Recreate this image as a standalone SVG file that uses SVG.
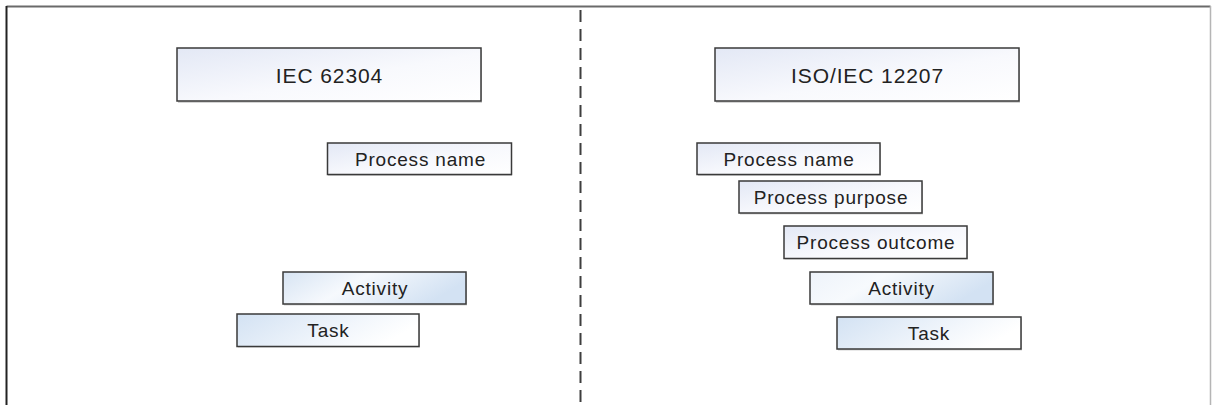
<svg xmlns="http://www.w3.org/2000/svg" width="1212" height="405" viewBox="0 0 1212 405">
<style>
.box{stroke:#3a3a3a;stroke-width:1.5}
.sh{fill:#d4d4d4}
.t{font-family:"Liberation Sans",Arial,sans-serif;fill:#222;text-anchor:middle}
.big{font-size:21px;letter-spacing:0.9px}
.sm{font-size:19px;letter-spacing:0.8px}
.frame{stroke-width:2;fill:none}
</style>
<defs>
<linearGradient id="gP" x1="0" y1="0" x2="1" y2="1">
<stop offset="0" stop-color="#e3e8f5"/>
<stop offset="0.55" stop-color="#f8f9fd"/>
<stop offset="1" stop-color="#ffffff"/>
</linearGradient>
<linearGradient id="gA" x1="0" y1="0" x2="1" y2="0.3">
<stop offset="0" stop-color="#d7e4f3"/>
<stop offset="0.45" stop-color="#f6f9fd"/>
<stop offset="1" stop-color="#d3e2f3"/>
</linearGradient>
<linearGradient id="gT" x1="0" y1="0" x2="1" y2="0.3">
<stop offset="0" stop-color="#d3e2f3"/>
<stop offset="0.7" stop-color="#f3f7fc"/>
<stop offset="1" stop-color="#ffffff"/>
</linearGradient>
<linearGradient id="gA2" x1="0" y1="0" x2="1" y2="0.3">
<stop offset="0" stop-color="#eef3fa"/>
<stop offset="0.4" stop-color="#f7fafd"/>
<stop offset="1" stop-color="#d3e2f3"/>
</linearGradient>
</defs>
<g id="frame">
<line class="frame" x1="6.5" y1="6.5" x2="1210.5" y2="6.5" stroke="#6a6a6a"/>
<line class="frame" x1="6.5" y1="6" x2="6.5" y2="405" stroke="#222"/>
<line x1="1210.5" y1="6" x2="1210.5" y2="405" stroke="#b5b5b5" stroke-width="1.5"/>
</g>
<g id="connectors">
<line x1="580.5" y1="10" x2="580.5" y2="405" stroke="#3e3e3e" stroke-width="2" stroke-dasharray="12 7"/>
</g>
<g id="iec62304">
<rect class="sh" x="178" y="50" width="304" height="53"/>
<rect class="box" x="177" y="48" width="304" height="53" fill="url(#gP)"/>
<text class="t big" x="329.5" y="82.5">IEC 62304</text>
</g>
<g id="iso12207">
<rect class="sh" x="716" y="50" width="304" height="53"/>
<rect class="box" x="715" y="48" width="304" height="53" fill="url(#gP)"/>
<text class="t big" x="867.5" y="82.5">ISO/IEC 12207</text>
</g>
<g id="left-process-name">
<rect class="sh" x="328" y="144.5" width="184" height="31.5"/>
<rect class="box" x="327.5" y="143" width="184" height="31.5" fill="url(#gP)"/>
<text class="t sm" x="420.5" y="166">Process name</text>
</g>
<g id="left-activity">
<rect class="sh" x="284" y="273.5" width="183" height="32"/>
<rect class="box" x="283" y="272" width="183" height="32" fill="url(#gA)"/>
<text class="t sm" x="375" y="295">Activity</text>
</g>
<g id="left-task">
<rect class="sh" x="238" y="315.5" width="182" height="32"/>
<rect class="box" x="237" y="314" width="182" height="32.5" fill="url(#gT)"/>
<text class="t sm" x="328.5" y="337">Task</text>
</g>
<g id="right-process-name">
<rect class="sh" x="698" y="144.5" width="183" height="31.5"/>
<rect class="box" x="697" y="143" width="183" height="31.5" fill="url(#gP)"/>
<text class="t sm" x="789" y="166">Process name</text>
</g>
<g id="right-process-purpose">
<rect class="sh" x="740" y="182.5" width="183" height="32"/>
<rect class="box" x="739" y="181" width="183" height="32" fill="url(#gP)"/>
<text class="t sm" x="831" y="204">Process purpose</text>
</g>
<g id="right-process-outcome">
<rect class="sh" x="785" y="227.5" width="183" height="32"/>
<rect class="box" x="784" y="226" width="183" height="32.5" fill="url(#gP)"/>
<text class="t sm" x="876" y="249">Process outcome</text>
</g>
<g id="right-activity">
<rect class="sh" x="811" y="273.5" width="183" height="32"/>
<rect class="box" x="810" y="272" width="183" height="32" fill="url(#gA2)"/>
<text class="t sm" x="901.5" y="295">Activity</text>
</g>
<g id="right-task">
<rect class="sh" x="838" y="318.5" width="184" height="32"/>
<rect class="box" x="837" y="317" width="184" height="32" fill="url(#gT)"/>
<text class="t sm" x="929" y="340">Task</text>
</g>
</svg>
